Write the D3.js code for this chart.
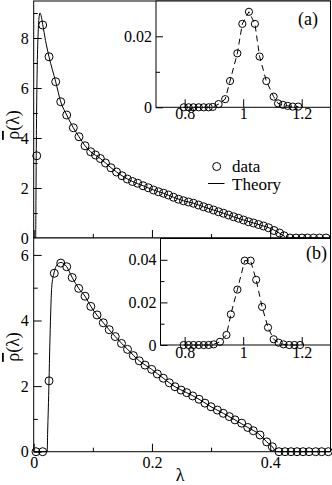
<!DOCTYPE html>
<html><head><meta charset="utf-8">
<script src="https://cdn.jsdelivr.net/npm/d3@7"></script>
<style>
body{margin:0;background:#fff}
svg{display:block}
text{font-family:"Liberation Serif","Times New Roman",serif;fill:#000}
</style>
</head><body>
<svg id="c" width="332" height="485"></svg>
<script>
// ---------- data ----------
const topLambda = [0.0051,0.0152,0.0259,0.0372,0.0457,0.0558,0.0670,0.0766,0.0868,0.0964,0.1045,0.1127,0.1214,0.1307,0.1401,0.1494,0.1583,0.1671,0.1759,0.1849,0.1938,0.2026,0.2111,0.2196,0.2280,0.2365,0.2449,0.2534,0.2618,0.2703,0.2788,0.2872,0.2957,0.3041,0.3126,0.3210,0.3295,0.3380,0.3464,0.3549,0.3633,0.3718,0.3802,0.3887,0.3972,0.4065,0.4158,0.4234,0.4335,0.4437,0.4538,0.4631,0.4733,0.4834,0.4944];
const topRho = [3.29,8.52,7.25,6.25,5.45,4.92,4.41,4.05,3.69,3.45,3.32,3.18,3.00,2.81,2.64,2.49,2.36,2.26,2.19,2.09,2.01,1.92,1.85,1.79,1.72,1.63,1.55,1.49,1.44,1.39,1.32,1.25,1.19,1.12,1.05,0.99,0.92,0.85,0.79,0.72,0.65,0.60,0.54,0.48,0.41,0.30,0.20,0.09,0,0,0,0,0,0,0];
const topTheoryLambda = [0,0.0033,0.0038,0.0043,0.0050,0.0060,0.0075,0.0092,0.0107,0.0125,0.0152,0.0200,0.0259,0.0372,0.0457,0.0558,0.0670,0.0766,0.0868,0.0964,0.1127,0.1307,0.1494,0.1671,0.1849,0.2026,0.2196,0.2365,0.2534,0.2703,0.2872,0.3041,0.3210,0.3380,0.3549,0.3718,0.3887,0.4000,0.4100,0.4180,0.4240,0.4275,0.502];
const topTheoryRho = [0,0,1.5,3.3,5.2,6.9,8.2,8.85,9.0,8.9,8.55,7.9,7.25,6.25,5.45,4.92,4.41,4.05,3.69,3.45,3.18,2.81,2.49,2.26,2.09,1.92,1.79,1.63,1.49,1.39,1.25,1.12,0.99,0.85,0.72,0.60,0.48,0.39,0.27,0.16,0.07,0,0];

const botLambda = [0.0039,0.0152,0.0259,0.0348,0.0458,0.0558,0.0651,0.0761,0.0868,0.0966,0.1071,0.1177,0.1277,0.1379,0.1485,0.1587,0.1685,0.1786,0.1883,0.1996,0.2091,0.2192,0.2294,0.2390,0.2492,0.2588,0.2689,0.2796,0.2897,0.2999,0.3106,0.3207,0.3309,0.3405,0.3518,0.3620,0.3714,0.3828,0.3941,0.4036,0.4149,0.4251,0.4352,0.4454,0.4556,0.4657,0.4770,0.4871,0.4983];
const botRho = [0,0,2.16,5.44,5.75,5.64,5.31,4.98,4.74,4.43,4.17,3.93,3.72,3.51,3.30,3.12,2.93,2.77,2.64,2.51,2.37,2.24,2.10,1.98,1.88,1.80,1.70,1.60,1.48,1.37,1.27,1.17,1.07,0.97,0.87,0.74,0.64,0.51,0.30,0.15,0,0,0,0,0,0,0,0,0];
const botTheoryLambda = [0,0.0228,0.0236,0.0247,0.0259,0.0272,0.0287,0.0304,0.0343,0.0416,0.0460,0.0558,0.0651,0.0761,0.0868,0.0966,0.1177,0.1379,0.1587,0.1786,0.1996,0.2192,0.2390,0.2588,0.2796,0.2999,0.3207,0.3405,0.3620,0.3828,0.3941,0.4036,0.4085,0.4100,0.502];
const botTheoryRho = [0,0,0.6,1.3,2.16,3.2,4.2,5.0,5.45,5.74,5.77,5.64,5.31,4.98,4.74,4.43,3.93,3.51,3.12,2.77,2.51,2.24,1.98,1.80,1.60,1.37,1.17,0.97,0.74,0.51,0.30,0.15,0.03,0,0];

const insetALambda = [0.797,0.8135,0.830,0.848,0.865,0.882,0.896,0.916,0.9385,0.955,0.980,0.997,1.0196,1.040,1.056,1.079,1.104,1.119,1.1355,1.152,1.169,1.188];
const insetARho = [0,0,0,0,0,0,0.0001,0.0009,0.0023,0.0074,0.0152,0.0235,0.0269,0.0235,0.0143,0.0074,0.0030,0.0011,0.0007,0.0004,0.0002,0.0002];
const insetBLambda = [0.7966,0.8135,0.8304,0.8483,0.8652,0.8821,0.8990,0.9206,0.9429,0.9578,0.9801,1.0051,1.0253,1.0443,1.0645,1.0848,1.1041,1.1209,1.1378,1.1571,1.1750,1.1943];
const insetBRho = [0,0,0,0,0,0,0.0003,0.0015,0.0047,0.0144,0.0260,0.0396,0.0396,0.0306,0.0179,0.0082,0.0027,0.0011,0.0003,0,0,0];

const mainXMajor = [0,0.2,0.4];
const mainXMinor = [0.1,0.3];
const mainXLabels = ["0","0.2","0.4"];
const topYMajor = [0,2,4,6,8];
const topYMinor = [1,3,5,7,9];
const topYLabels = ["0","2","4","6","8"];
const botYMajor = [0,2,4,6];
const botYMinor = [1,3,5];
const botYLabels = ["0","2","4","6"];
const insetXMajor = [0.8,1,1.2];
const insetXLabels = ["0.8","1","1.2"];
const insetAYMajor = [0,0.02];
const insetAYMinor = [0.01];
const insetAYLabels = ["0","0.02"];
const insetBYMajor = [0,0.02,0.04];
const insetBYMinor = [0.01,0.03];
const insetBYLabels = ["0","0.02","0.04"];
const legendLabels = ["data","Theory"];
const panelLabels = ["(a)","(b)"];
const xTitle = "λ";
const yTitle = "ρ";

// ---------- drawing ----------
const svg = d3.select("#c");
const FS = 16;
const FONT = "'Liberation Serif','Times New Roman',serif";

const x = d3.scaleLinear().domain([0,0.502]).range([33.7,330.5]);
const yTop = d3.scaleLinear().domain([0,9.5]).range([238,0.5]);
const yBot = d3.scaleLinear().domain([0,6.5]).range([451.7,238.5]);
const xA = d3.scaleLinear().domain([0.7,1.3]).range([155.4,331]);
const yA = d3.scaleLinear().domain([0,0.03]).range([107.3,0.8]);
const xB = d3.scaleLinear().domain([0.7,1.3]).range([155.4,331]);
const yB = d3.scaleLinear().domain([0,0.05]).range([345,238.5]);

function fmtFrom(vals, labels){ return d => labels[vals.indexOf(d)]; }

function frame(x0,y0,x1,y1){
  svg.append("rect").attr("x",x0).attr("y",y0).attr("width",x1-x0).attr("height",y1-y0)
    .attr("fill","#fff").attr("stroke","#000").attr("stroke-width",1);
}

function styleAxes(){
  svg.selectAll(".domain").remove();
  svg.selectAll(".tick text").attr("font-size",FS).style("font-family",FONT);
  svg.selectAll(".tick line").attr("stroke","#000");
}

// ===== Top panel =====
frame(33.7,1,330.5,238);
svg.append("g").attr("transform","translate(0,238)")
  .call(d3.axisBottom(x).tickValues(mainXMajor).tickSizeInner(-8).tickSizeOuter(0).tickFormat(()=>""));
svg.append("g").attr("transform","translate(0,238)")
  .call(d3.axisBottom(x).tickValues(mainXMinor).tickSizeInner(-4).tickSizeOuter(0).tickFormat(()=>""));
svg.append("g").attr("transform","translate(33.7,0)")
  .call(d3.axisLeft(yTop).tickValues(topYMajor).tickSizeInner(-8).tickSizeOuter(0).tickPadding(5).tickFormat(fmtFrom(topYMajor,topYLabels)));
svg.append("g").attr("transform","translate(33.7,0)")
  .call(d3.axisLeft(yTop).tickValues(topYMinor).tickSizeInner(-4).tickSizeOuter(0).tickFormat(()=>""));

const lineTop = d3.line().x((d,i)=>x(topTheoryLambda[i])).y((d,i)=>yTop(topTheoryRho[i])).curve(d3.curveMonotoneX);
svg.append("path").datum(topTheoryLambda).attr("d",lineTop).attr("fill","none").attr("stroke","#000").attr("stroke-width",1);
svg.append("g").selectAll("circle").data(topLambda).join("circle")
  .attr("cx",d=>x(d)).attr("cy",(d,i)=>yTop(topRho[i])).attr("r",4)
  .attr("fill","none").attr("stroke","#000").attr("stroke-width",1);

// Legend
svg.append("circle").attr("cx",216.7).attr("cy",166.5).attr("r",4).attr("fill","none").attr("stroke","#000");
svg.append("text").attr("x",232).attr("y",171.5).attr("font-size",17).style("font-family",FONT).text(legendLabels[0]);
svg.append("line").attr("x1",208).attr("x2",224.5).attr("y1",183.5).attr("y2",183.5).attr("stroke","#000").attr("stroke-width",1);
svg.append("text").attr("x",232).attr("y",189.5).attr("font-size",17).style("font-family",FONT).text(legendLabels[1]);

// Inset (a)
frame(156,1,330.5,107.3);
svg.append("g").attr("transform","translate(0,107.3)")
  .call(d3.axisBottom(xA).tickValues(insetXMajor).tickSizeInner(-8).tickSizeOuter(0).tickPadding(0).tickFormat(fmtFrom(insetXMajor,insetXLabels)));
svg.append("g").attr("transform","translate(156,0)")
  .call(d3.axisLeft(yA).tickValues(insetAYMajor).tickSizeInner(-7).tickSizeOuter(0).tickPadding(4).tickFormat(fmtFrom(insetAYMajor,insetAYLabels)));
svg.append("g").attr("transform","translate(156,0)")
  .call(d3.axisLeft(yA).tickValues(insetAYMinor).tickSizeInner(-4).tickSizeOuter(0).tickFormat(()=>""));
const lineA = d3.line().x((d,i)=>xA(insetALambda[i])).y((d,i)=>yA(insetARho[i]));
svg.append("path").datum(insetALambda).attr("d",lineA).attr("fill","none").attr("stroke","#000").attr("stroke-dasharray","6,4");
svg.append("g").selectAll("circle").data(insetALambda).join("circle")
  .attr("cx",d=>xA(d)).attr("cy",(d,i)=>yA(insetARho[i])).attr("r",3.6)
  .attr("fill","none").attr("stroke","#000");
svg.append("text").attr("x",298).attr("y",25).attr("font-size",18).style("font-family",FONT).text(panelLabels[0]);

// ===== Bottom panel =====
frame(33.7,238,330.5,451.7);
svg.append("g").attr("transform","translate(0,451.7)")
  .call(d3.axisBottom(x).tickValues(mainXMajor).tickSizeInner(-8).tickSizeOuter(0).tickPadding(5).tickFormat(fmtFrom(mainXMajor,mainXLabels)));
svg.append("g").attr("transform","translate(0,451.7)")
  .call(d3.axisBottom(x).tickValues(mainXMinor).tickSizeInner(-4).tickSizeOuter(0).tickFormat(()=>""));
svg.append("g").attr("transform","translate(33.7,0)")
  .call(d3.axisLeft(yBot).tickValues(botYMajor).tickSizeInner(-8).tickSizeOuter(0).tickPadding(5).tickFormat(fmtFrom(botYMajor,botYLabels)));
svg.append("g").attr("transform","translate(33.7,0)")
  .call(d3.axisLeft(yBot).tickValues(botYMinor).tickSizeInner(-4).tickSizeOuter(0).tickFormat(()=>""));

const lineBot = d3.line().x((d,i)=>x(botTheoryLambda[i])).y((d,i)=>yBot(botTheoryRho[i])).curve(d3.curveMonotoneX);
svg.append("path").datum(botTheoryLambda).attr("d",lineBot).attr("fill","none").attr("stroke","#000").attr("stroke-width",1);
svg.append("g").selectAll("circle").data(botLambda).join("circle")
  .attr("cx",d=>x(d)).attr("cy",(d,i)=>yBot(botRho[i])).attr("r",4)
  .attr("fill","none").attr("stroke","#000").attr("stroke-width",1);

// Inset (b)
frame(160.5,238.5,330.5,345);
svg.append("g").attr("transform","translate(0,345)")
  .call(d3.axisBottom(xB).tickValues(insetXMajor).tickSizeInner(-8).tickSizeOuter(0).tickPadding(2).tickFormat(fmtFrom(insetXMajor,insetXLabels)));
svg.append("g").attr("transform","translate(160.5,0)")
  .call(d3.axisLeft(yB).tickValues(insetBYMajor).tickSizeInner(-7).tickSizeOuter(0).tickPadding(4).tickFormat(fmtFrom(insetBYMajor,insetBYLabels)));
svg.append("g").attr("transform","translate(160.5,0)")
  .call(d3.axisLeft(yB).tickValues(insetBYMinor).tickSizeInner(-4).tickSizeOuter(0).tickFormat(()=>""));
const lineB = d3.line().x((d,i)=>xB(insetBLambda[i])).y((d,i)=>yB(insetBRho[i]));
svg.append("path").datum(insetBLambda).attr("d",lineB).attr("fill","none").attr("stroke","#000").attr("stroke-dasharray","6,4");
svg.append("g").selectAll("circle").data(insetBLambda).join("circle")
  .attr("cx",d=>xB(d)).attr("cy",(d,i)=>yB(insetBRho[i])).attr("r",3.6)
  .attr("fill","none").attr("stroke","#000");
svg.append("text").attr("x",306).attr("y",259).attr("font-size",18).style("font-family",FONT).text(panelLabels[1]);

styleAxes();

// axis titles
svg.append("text").attr("x",180).attr("y",481).attr("text-anchor","middle").attr("font-size",18).style("font-family",FONT).text(xTitle);
function yLabel(cy){
  const g = svg.append("g").attr("transform",`translate(19,${cy}) rotate(-90)`);
  const t = g.append("text").attr("text-anchor","middle").attr("font-size",18).style("font-family",FONT);
  t.append("tspan").attr("text-decoration","overline").text(yTitle);
  t.append("tspan").text("(λ)");
}
yLabel(125);
yLabel(347);
</script>
</body></html>
